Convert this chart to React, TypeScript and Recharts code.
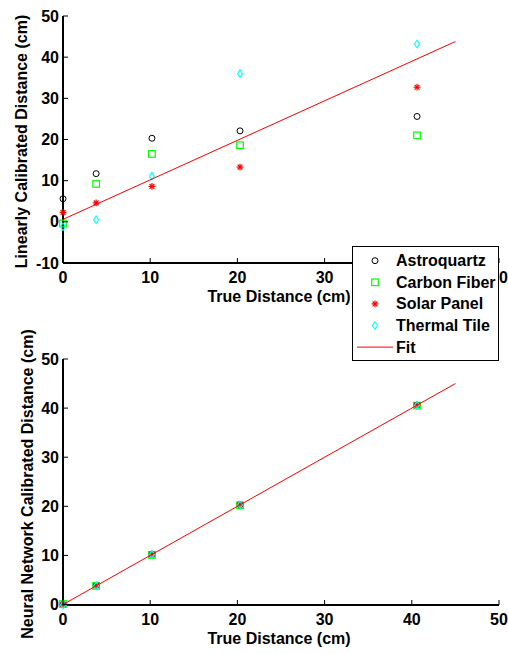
import { ScatterChart, Scatter, XAxis, YAxis } from "recharts";

// --- data ---
const trueDistance = [0, 3.8, 10.2, 20.3, 40.6];

const linAstroquartz = [5.6, 11.7, 20.3, 22.1, 25.6];
const linCarbonFiber = [-0.4, 9.2, 16.5, 18.6, 21.0];
const linSolarPanel = [2.3, 4.6, 8.6, 13.3, 32.7];
const linThermalTile = [-1.2, 0.5, 11.1, 36.0, 43.2];

const nnAstroquartz = [0, 3.9, 10.2, 20.3, 40.6];
const nnCarbonFiber = [0.1, 3.8, 10.1, 20.2, 40.5];
const nnSolarPanel = [0, 3.9, 10.3, 20.4, 40.7];
const nnThermalTile = [-0.1, 3.8, 10.2, 20.3, 40.6];

const fitX = [0, 45];
const linFitY = [0.6, 43.8];
const nnFitY = [0, 45];

const xTicks = [0, 10, 20, 30, 40, 50];
const linTicks = [-10, 0, 10, 20, 30, 40, 50];
const nnTicks = [0, 10, 20, 30, 40, 50];

const seriesNames = ["Astroquartz", "Carbon Fiber", "Solar Panel", "Thermal Tile"];
const markerKinds = ["circle", "square", "star", "diamond"];
const markerColors = ["#000000", "#00ff00", "#ff0000", "#00ffff"];
const fitName = "Fit";
const fitColor = "#ff0000";

const font = {
  fontFamily: '"Liberation Sans", Arial, Helvetica, sans-serif',
  fontWeight: 700,
  fontSize: 16,
  fill: "#000",
};

const zip = (xs: number[], ys: number[]) => xs.map((x, i) => ({ x, y: ys[i] }));

function Marker({ kind, cx, cy, color }: any) {
  if (cx == null || cy == null) return <g />;
  if (kind === "circle")
    return <circle cx={cx} cy={cy} r={3} fill="none" stroke={color} strokeWidth={1} />;
  if (kind === "square")
    return (
      <rect x={cx - 3.3} y={cy - 3.3} width={6.6} height={6.6} fill="none" stroke={color} strokeWidth={1.2} />
    );
  if (kind === "diamond")
    return (
      <polygon
        points={`${cx},${cy - 3.8} ${cx + 2.5},${cy} ${cx},${cy + 3.8} ${cx - 2.5},${cy}`}
        fill="none"
        stroke={color}
        strokeWidth={1.1}
      />
    );
  // asterisk
  const r = 3.4;
  const d = 2.4;
  return (
    <g stroke={color} strokeWidth={1.2}>
      <line x1={cx - r} y1={cy} x2={cx + r} y2={cy} />
      <line x1={cx} y1={cy - r} x2={cx} y2={cy + r} />
      <line x1={cx - d} y1={cy - d} x2={cx + d} y2={cy + d} />
      <line x1={cx - d} y1={cy + d} x2={cx + d} y2={cy - d} />
    </g>
  );
}

// inward ticks, MATLAB style
const BottomTick = ({ x, y, payload }: any) => (
  <g>
    <line x1={x} x2={x} y1={y} y2={y - 5} stroke="#000" strokeWidth={1} />
    <text x={x} y={y + 20} textAnchor="middle" style={font}>
      {payload.value}
    </text>
  </g>
);
const TopTick = ({ x, y }: any) => <line x1={x} x2={x} y1={y} y2={y + 5} stroke="#000" strokeWidth={1} />;
const LeftTick = ({ x, y, payload }: any) => (
  <g>
    <line x1={x} x2={x + 5} y1={y} y2={y} stroke="#000" strokeWidth={1} />
    <text x={x - 4} y={y + 5.5} textAnchor="end" style={font}>
      {payload.value}
    </text>
  </g>
);
const RightTick = ({ x, y }: any) => <line x1={x} x2={x - 5} y1={y} y2={y} stroke="#000" strokeWidth={1} />;

const axisLine = { stroke: "#000", strokeWidth: 2 };

function Panel({ top, height, margin, axisHeight, yDomain, yTicks, series, fitY, yLabel, yLabelX }: any) {
  const plotTop = margin.top;
  const plotBottom = height - margin.bottom - axisHeight;
  return (
    <div style={{ position: "absolute", left: 0, top }}>
      <ScatterChart width={508} height={height} margin={margin}>
        <XAxis
          type="number"
          dataKey="x"
          domain={[0, 50]}
          ticks={xTicks}
          height={axisHeight}
          tickSize={0}
          tickMargin={0}
          tickLine={false}
          axisLine={axisLine}
          tick={<BottomTick />}
          label={(p: any) => {
            const vb = p.viewBox || { x: 63, y: plotBottom, width: 436 };
            return (
              <text x={vb.x + vb.width / 2 - 2} y={vb.y + 39} textAnchor="middle" style={font}>
                True Distance (cm)
              </text>
            );
          }}
        />
        <XAxis
          xAxisId="top"
          orientation="top"
          type="number"
          domain={[0, 50]}
          ticks={xTicks}
          height={0}
          tickSize={0}
          tickMargin={0}
          tickLine={false}
          allowDataOverflow
          axisLine={axisLine}
          tick={<TopTick />}
        />
        <YAxis
          type="number"
          dataKey="y"
          domain={yDomain}
          ticks={yTicks}
          width={63}
          tickSize={0}
          tickMargin={0}
          tickLine={false}
          axisLine={axisLine}
          tick={<LeftTick />}
          label={(p: any) => {
            const vb = p.viewBox || { y: plotTop, height: plotBottom - plotTop };
            const cy = vb.y + vb.height / 2 + 2;
            return (
              <text
                x={yLabelX}
                y={cy}
                dy="0.36em"
                transform={`rotate(-90 ${yLabelX} ${cy})`}
                textAnchor="middle"
                style={font}
              >
                {yLabel}
              </text>
            );
          }}
        />
        <YAxis
          yAxisId="right"
          orientation="right"
          type="number"
          domain={yDomain}
          ticks={yTicks}
          width={0}
          tickSize={0}
          tickMargin={0}
          tickLine={false}
          allowDataOverflow
          axisLine={axisLine}
          tick={<RightTick />}
        />
        {series.map((ys: number[], i: number) => (
          <Scatter
            key={seriesNames[i]}
            name={seriesNames[i]}
            data={zip(trueDistance, ys)}
            isAnimationActive={false}
            shape={(s: any) => <Marker kind={markerKinds[i]} cx={s.cx} cy={s.cy} color={markerColors[i]} />}
          />
        ))}
        <Scatter
          name={fitName}
          data={zip(fitX, fitY)}
          line={{ stroke: fitColor, strokeWidth: 1 }}
          shape={() => <g />}
          isAnimationActive={false}
        />
      </ScatterChart>
    </div>
  );
}

function LegendBox() {
  const rowY = [14.7, 36.3, 57.9, 79.5, 101.1];
  return (
    <svg
      width={148}
      height={116}
      style={{ position: "absolute", left: 352, top: 246, zIndex: 5 }}
    >
      <rect x={0.5} y={0.5} width={146} height={114} fill="#fff" stroke="#000" strokeWidth={1} />
      {seriesNames.map((n, i) => (
        <g key={n}>
          <Marker kind={markerKinds[i]} cx={23} cy={rowY[i]} color={markerColors[i]} />
          <text x={44} y={rowY[i] + 5.5} style={font}>
            {n}
          </text>
        </g>
      ))}
      <line x1={5} x2={41} y1={rowY[4]} y2={rowY[4]} stroke={fitColor} strokeWidth={1} />
      <text x={44} y={rowY[4] + 5.5} style={font}>
        {fitName}
      </text>
    </svg>
  );
}

export default function App() {
  return (
    <div
      style={{
        position: "absolute",
        left: 0,
        top: 0,
        width: 508,
        height: 654,
        background: "#fff",
        overflow: "hidden",
      }}
    >
      <Panel
        top={0}
        height={320}
        margin={{ top: 16, right: 9, left: 0, bottom: 7 }}
        axisHeight={50}
        yDomain={[-10, 50]}
        yTicks={linTicks}
        series={[linAstroquartz, linCarbonFiber, linSolarPanel, linThermalTile]}
        fitY={linFitY}
        yLabel="Linearly Calibrated Distance (cm)"
        yLabelX={21.7}
      />
      <Panel
        top={320}
        height={334}
        margin={{ top: 39, right: 9, left: 0, bottom: 0 }}
        axisHeight={49}
        yDomain={[0, 50]}
        yTicks={nnTicks}
        series={[nnAstroquartz, nnCarbonFiber, nnSolarPanel, nnThermalTile]}
        fitY={nnFitY}
        yLabel="Neural Network Calibrated Distance (cm)"
        yLabelX={27.5}
      />
      <LegendBox />
    </div>
  );
}
